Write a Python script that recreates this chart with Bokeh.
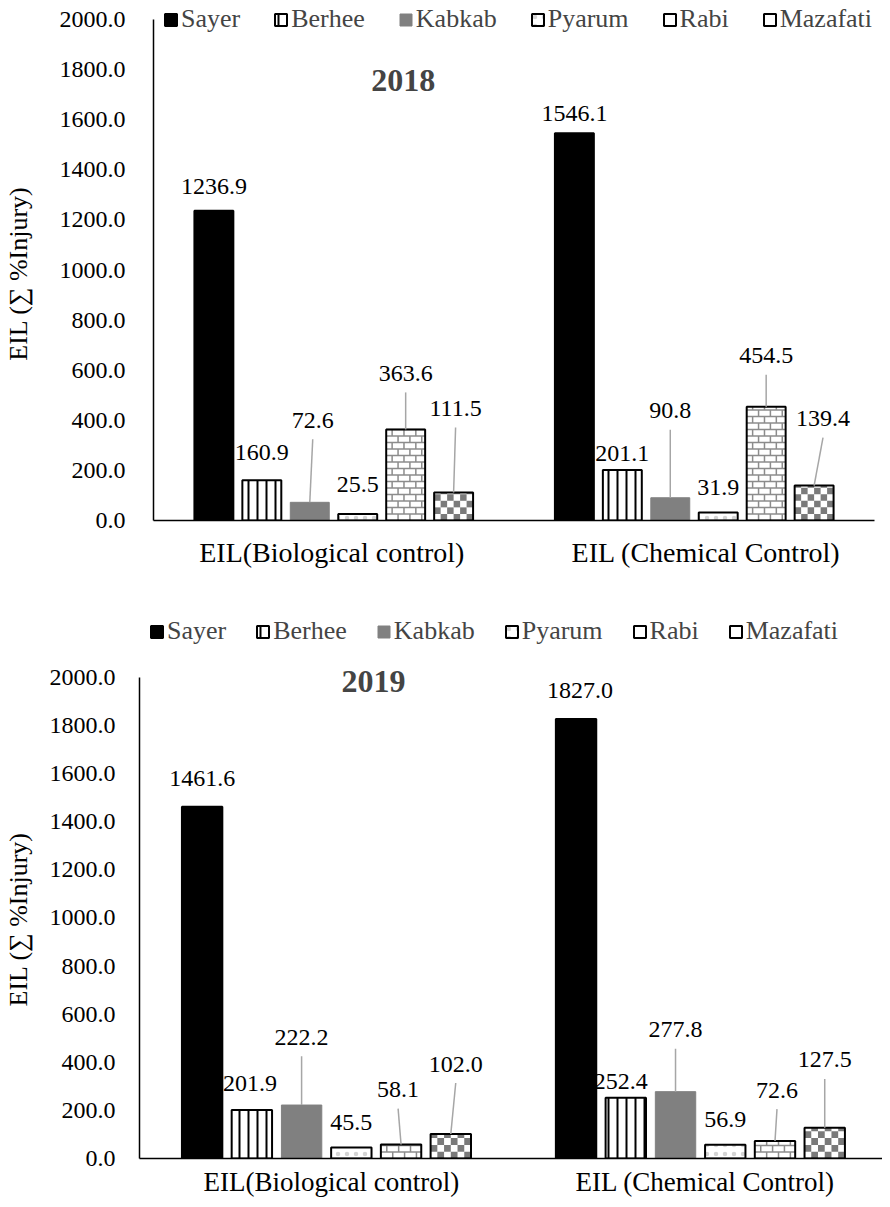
from bokeh.plotting import figure
from bokeh.models import (ColumnDataSource, Legend, LegendItem, Label, FixedTicker, Range1d)
from bokeh.embed import file_html
from bokeh.resources import INLINE

# ---------------- data ----------------
categories = ["EIL(Biological control)", "EIL (Chemical Control)"]
cultivars = ["Sayer", "Berhee", "Kabkab", "Pyarum", "Rabi", "Mazafati"]
eil_2018_bio = [1236.9, 160.9, 72.6, 25.5, 363.6, 111.5]
eil_2018_chem = [1546.1, 201.1, 90.8, 31.9, 454.5, 139.4]
eil_2019_bio = [1461.6, 201.9, 222.2, 45.5, 58.1, 102.0]
eil_2019_chem = [1827.0, 252.4, 277.8, 56.9, 72.6, 127.5]
y_ticks = [0, 200, 400, 600, 800, 1000, 1200, 1400, 1600, 1800, 2000]
y_title = "EIL (\u2211 %Injury)"

# ---------------- styles ----------------
FONT = "'Times New Roman', 'Liberation Serif', serif"
GRAY = "#808080"
MORTAR = "#8c8c8c"
CHECK = "#7a7a7a"

# label offsets (px above bar top, px horizontal, leader line)
offs_2018 = [
    [(24, 0, False), (28, 0, False), (82, 3, True), (30, 0, False), (56, 0, True), (84, 2, True)],
    [(20, 0, False), (17, 0, False), (87, 0, True), (25, 0, False), (51, 0, True), (67, 9, True)],
]
offs_2019 = [
    [(28, 0, False), (26, -2, False), (68, 0, True), (25, 0, False), (55, -3, True), (70, 5, True)],
    [(29, 4, False), (16, -5, False), (62, 0, True), (25, 0, False), (51, 2, True), (68, 0, True)],
]

PITCH = 0.133
BW = 0.108


def make_chart(title, bio, chem, offs, g):
    W = 882
    frame_h = g["h"] - g["bottom"]
    frame_w = W - g["left"] - g["right"]
    ky = 2000.0 / (frame_h - g["head"])
    kx = g["x_end"] / frame_w
    p = figure(width=W, height=g["h"], x_range=Range1d(0, g["x_end"]),
               y_range=Range1d(0, frame_h * ky), output_backend="svg", toolbar_location=None,
               min_border_left=g["left"], min_border_right=g["right"],
               min_border_top=0, min_border_bottom=g["bottom"])
    vals = [bio, chem]
    ncat = len(categories)

    def xpos(ci, j):
        return ci + 0.5 + (j - 2.5) * PITCH

    legend_items = []
    for j, name in enumerate(cultivars):
        xs = [xpos(ci, j) for ci in range(ncat)]
        tops = [vals[ci][j] for ci in range(ncat)]
        src = ColumnDataSource(dict(x=xs, top=tops))
        if name == "Sayer":
            r = p.vbar(x="x", top="top", width=BW, source=src, fill_color="black",
                       line_color="black", line_width=2)
            legend_items.append(LegendItem(label=name, renderers=[r]))
        elif name == "Berhee":
            r = p.vbar(x="x", top="top", width=BW, source=src, fill_color="white",
                       line_color="black", line_width=2, hatch_pattern="vertical_line",
                       hatch_color="black", hatch_weight=2, hatch_scale=9)
            legend_items.append(LegendItem(label=name, renderers=[r]))
        elif name == "Kabkab":
            r = p.vbar(x="x", top="top", width=BW, source=src, fill_color=GRAY,
                       line_color=GRAY, line_width=1)
            legend_items.append(LegendItem(label=name, renderers=[r]))
        elif name == "Pyarum":
            r = p.vbar(x="x", top="top", width=BW, source=src, fill_color="white",
                       line_color="black", line_width=2, hatch_pattern="dot",
                       hatch_color="#d4d4d4", hatch_weight=1, hatch_scale=9)
            legend_items.append(LegendItem(label=name, renderers=[r]))
        elif name == "Rabi":
            rf = p.vbar(x="x", top="top", width=BW, source=src, fill_color="white",
                        line_color=None)
            rh, bw = 6.5 * ky, 12 * kx
            x0, y0, x1, y1 = [], [], [], []
            for xc, v in zip(xs, tops):
                xl, xr = xc - BW / 2, xc + BW / 2
                k = 0
                while k * rh < v:
                    yb, yt = k * rh, min((k + 1) * rh, v)
                    if k > 0:
                        x0.append(xl); x1.append(xr); y0.append(yb); y1.append(yb)
                    xv = xl + (k % 2) * bw / 2
                    while xv < xr:
                        if xv > xl:
                            x0.append(xv); x1.append(xv); y0.append(yb); y1.append(yt)
                        xv += bw
                    k += 1
            p.segment(x0=x0, y0=y0, x1=x1, y1=y1, line_color=MORTAR, line_width=1.5)
            proxy = p.segment(x0=[], y0=[], x1=[], y1=[], line_color=MORTAR, line_width=4)
            ro = p.vbar(x="x", top="top", width=BW, source=src, fill_color=None,
                        line_color="black", line_width=2)
            legend_items.append(LegendItem(label=name, renderers=[rf, proxy, ro]))
        else:  # Mazafati checkerboard
            rf = p.vbar(x="x", top="top", width=BW, source=src, fill_color="white",
                        line_color=None)
            ncol = 6
            cw = BW / ncol
            ch = cw / kx * ky
            L, R, B, T = [], [], [], []
            for xc, v in zip(xs, tops):
                xl = xc - BW / 2
                r_ = 0
                while r_ * ch < v:
                    for c in range(ncol):
                        if (r_ + c) % 2 == 1:
                            L.append(xl + c * cw); R.append(xl + (c + 1) * cw)
                            B.append(r_ * ch); T.append(min((r_ + 1) * ch, v))
                    r_ += 1
            p.quad(left=L, right=R, bottom=B, top=T, fill_color=CHECK, line_color=None)
            proxy = p.scatter(x=[], y=[], marker="square", size=8, fill_color=CHECK,
                              line_color=None)
            ro = p.vbar(x="x", top="top", width=BW, source=src, fill_color=None,
                        line_color="black", line_width=2)
            legend_items.append(LegendItem(label=name, renderers=[rf, proxy, ro]))

    # labels & leaders
    sx0, sy0, sx1, sy1 = [], [], [], []
    for ci in range(ncat):
        for j in range(len(cultivars)):
            v = vals[ci][j]
            dy, dx, lead = offs[ci][j]
            xb = xpos(ci, j)
            xl = xb + dx * kx
            yl = v + dy * ky
            p.add_layout(Label(x=xl, y=yl, text=f"{v:.1f}", text_font=FONT,
                               text_font_size="24px", text_align="center",
                               text_baseline="middle", text_color="black"))
            if lead:
                sx0.append(xb); sy0.append(v)
                sx1.append(xl); sy1.append(yl - 19 * ky)
    p.segment(x0=sx0, y0=sy0, x1=sx1, y1=sy1, line_color="#a6a6a6", line_width=1.5)

    legend = Legend(items=legend_items, orientation="horizontal", location=g["legend"],
                    label_text_font=FONT, label_text_font_size="26px",
                    glyph_width=15, glyph_height=15, label_standoff=3,
                    spacing=g["spacing"], padding=0, margin=0,
                    border_line_color=None, background_fill_alpha=0)
    p.add_layout(legend)

    p.add_layout(Label(x=g["tx"], y=g["ty_px"] * ky, text=title, text_font=FONT,
                       text_font_style="bold", text_font_size="32px",
                       text_align="center", text_baseline="middle"))

    p.xgrid.visible = False
    p.ygrid.visible = False
    p.outline_line_color = None

    p.yaxis.bounds = (0, 2000)
    p.yaxis.ticker = FixedTicker(ticks=y_ticks)
    p.yaxis.major_label_overrides = {t: f"{t:.1f}" for t in y_ticks}
    p.yaxis.major_label_text_font = FONT
    p.yaxis.major_label_text_font_size = "24px"
    p.yaxis.major_label_text_color = "black"
    p.yaxis.major_label_standoff = g["ystand"]
    p.yaxis.axis_label = y_title + "\u00a0" * g["pad"]
    p.yaxis.axis_label_text_font = FONT
    p.yaxis.axis_label_text_font_style = "normal"
    p.yaxis.axis_label_text_font_size = "26px"
    p.yaxis.axis_label_text_color = "black"
    p.yaxis.axis_label_standoff = g["als"]

    xt = [ci + 0.5 + g["xlab_dx"][ci] * kx for ci in range(ncat)]
    p.xaxis.ticker = FixedTicker(ticks=xt)
    p.xaxis.major_label_overrides = {t: c for t, c in zip(xt, categories)}
    p.xaxis.major_label_text_font = FONT
    p.xaxis.major_label_text_font_size = g["xfs"]
    p.xaxis.major_label_text_color = "black"
    p.xaxis.major_label_standoff = g["xstand"]

    for ax in (p.xaxis, p.yaxis):
        ax.major_tick_line_color = None
        ax.minor_tick_line_color = None
        ax.axis_line_color = "black"
        ax.axis_line_width = 1.5
    return p


g_top = dict(h=582, left=144, right=8, head=19, bottom=62, x_end=2.0,
             legend=(10, 486), spacing=33, tx=0.693, ty_px=440,
             ystand=22, als=24, xstand=10, xfs="28px", pad=4, xlab_dx=[-2, 12])
g_bot = dict(h=617, left=130, right=0, head=95, bottom=40, x_end=1.987,
             legend=(10, 512), spacing=29, tx=0.626, ty_px=478,
             ystand=18, als=14, xstand=2, xfs="27px", pad=15, xlab_dx=[5, 5])

p1 = make_chart("2018", eil_2018_bio, eil_2018_chem, offs_2018, g_top)
p2 = make_chart("2019", eil_2019_bio, eil_2019_chem, offs_2019, g_bot)

open("out.html", "w").write(file_html([p1, p2], INLINE))
